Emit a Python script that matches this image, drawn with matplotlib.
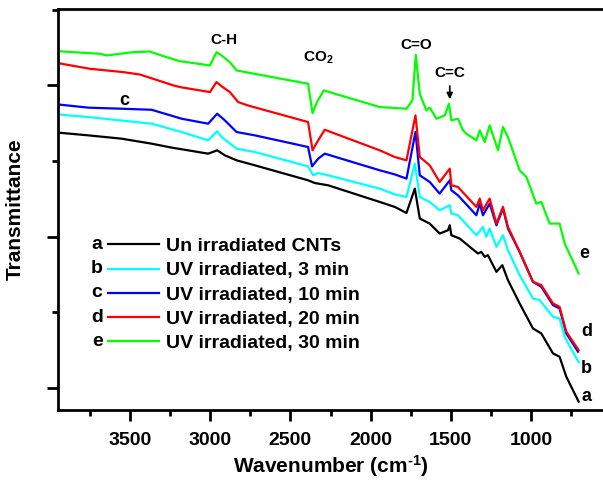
import matplotlib
matplotlib.use('Agg')
import matplotlib.pyplot as plt
from matplotlib.ticker import MultipleLocator

plt.rcParams['font.family'] = ['Liberation Sans', 'DejaVu Sans']
plt.rcParams['font.weight'] = 'bold'
plt.rcParams['axes.labelweight'] = 'bold'
plt.rcParams['mathtext.fontset'] = 'custom'
plt.rcParams['mathtext.rm'] = 'Liberation Sans:bold'
plt.rcParams['mathtext.bf'] = 'Liberation Sans:bold'
plt.rcParams['mathtext.default'] = 'bf'

# spectra (transmittance in arbitrary units)
wn_a = [3948, 3761, 3553, 3366, 3241, 3013, 2957, 2909, 2836, 2722, 2390, 2348, 2265,
        1943, 1849, 1776, 1724, 1693, 1631, 1569, 1517, 1506, 1496, 1444, 1330, 1309,
        1288, 1268, 1215, 1178, 1143, 1070, 987, 935, 862, 821, 779, 702]
t_a = [168.8, 167.0, 164.8, 161.5, 158.9, 154.9, 157.1, 153.8, 150.5, 147.2, 137.3, 135.5, 134.0,
       123.0, 119.7, 115.7, 131.8, 112.0, 108.7, 102.1, 104.3, 107.6, 101.0, 98.8, 88.9, 90.0,
       86.7, 87.8, 76.8, 81.2, 71.3, 55.9, 39.4, 36.1, 22.9, 20.7, 7.5, -9.0]

wn_b = [3948, 3761, 3366, 3179, 3013, 2957, 2930, 2836, 2722, 2390, 2358, 2327, 2265,
        1943, 1849, 1776, 1724, 1693, 1631, 1569, 1506, 1496, 1455, 1340, 1299, 1278,
        1257, 1215, 1174, 1143, 1070, 987, 945, 862, 821, 789, 702]
t_b = [180.8, 179.1, 174.7, 169.2, 163.7, 169.8, 165.9, 158.2, 156.0, 146.5, 140.6, 142.1, 140.6,
       131.8, 128.0, 126.3, 148.3, 126.3, 123.0, 117.5, 120.8, 115.3, 114.2, 101.0, 106.5, 99.9,
       105.4, 93.3, 101.0, 91.1, 74.6, 59.2, 58.1, 47.1, 46.0, 33.9, 17.0]

wn_c = [3948, 3761, 3553, 3366, 3179, 3013, 2957, 2909, 2836, 2722, 2390, 2365, 2327, 2286,
        1943, 1849, 1776, 1720, 1693, 1631, 1569, 1506, 1496, 1455, 1340, 1319, 1299,
        1257, 1215, 1174, 1143, 1070, 987, 935, 862, 821, 779, 706]
t_c = [187.4, 185.3, 184.6, 183.9, 178.0, 174.7, 181.3, 176.9, 169.2, 167.0, 159.3, 146.5, 151.6, 154.9,
       143.9, 141.2, 138.4, 169.2, 140.6, 136.2, 128.5, 137.3, 130.7, 127.4, 114.2, 121.9, 114.2,
       121.9, 107.6, 118.6, 105.4, 90.0, 70.2, 66.9, 54.8, 52.6, 36.1, 24.0]

wn_d = [3948, 3751, 3543, 3439, 3325, 3230, 3189, 3002, 2961, 2928, 2878, 2826, 2767, 2390,
        2362, 2327, 2286, 1943, 1849, 1776, 1720, 1693, 1631, 1569, 1506, 1496, 1455,
        1340, 1319, 1299, 1257, 1215, 1174, 1143, 1070, 987, 935, 862, 821, 779, 702]
t_d = [214.7, 211.0, 208.8, 207.2, 203.3, 200.0, 198.9, 195.6, 202.2, 199.3, 195.6, 189.0, 186.8, 175.8,
       157.1, 163.7, 170.7, 157.1, 152.7, 150.5, 180.2, 152.7, 147.2, 136.2, 145.0, 134.0, 132.9,
       119.7, 125.2, 117.5, 125.2, 108.7, 119.7, 106.5, 90.0, 70.2, 68.0, 55.9, 53.7, 37.2, 25.1]

wn_e = [3948, 3688, 3646, 3481, 3377, 3274, 3189, 3002, 2961, 2930, 2878, 2836, 2390,
        2362, 2334, 2292, 1943, 1776, 1739, 1718, 1693, 1652, 1631, 1589, 1537, 1511,
        1496, 1455, 1423, 1403, 1340, 1319, 1288, 1257, 1205, 1174, 1143, 1070, 1028,
        966, 935, 883, 821, 789, 702]
t_e = [222.6, 220.9, 219.8, 222.0, 222.4, 218.7, 216.0, 213.2, 222.0, 219.8, 215.4, 209.9, 201.1,
       181.7, 189.0, 196.7, 185.7, 184.6, 190.1, 220.2, 194.5, 183.5, 185.3, 178.0, 180.2, 187.9,
       176.9, 178.0, 170.3, 168.1, 163.7, 170.3, 162.6, 173.6, 157.1, 172.5, 165.9, 143.9, 139.5,
       121.9, 123.0, 108.7, 108.7, 95.5, 75.7]

letters = ['a', 'b', 'c', 'd', 'e']
labels = ['Un irradiated CNTs', 'UV irradiated, 3 min', 'UV irradiated, 10 min',
          'UV irradiated, 20 min', 'UV irradiated, 30 min']
colors = ['#000000', '#00FFFF', '#0000FF', '#FF0000', '#00FF00']

fig = plt.figure(figsize=(6.03, 4.88), dpi=100)
ax = fig.add_axes([58 / 603, 78 / 488, 545 / 603, 401 / 488])

series = [(wn_a, t_a), (wn_b, t_b), (wn_c, t_c), (wn_d, t_d), (wn_e, t_e)]
for (x, y), lab, col in zip(series, labels, colors):
    ax.plot(x, y, color=col, lw=1.6, label=lab)

ax.set_xlim(3950, 550)
ax.set_ylim(-14.5, 250.5)
ax.xaxis.set_major_locator(MultipleLocator(500))
ax.xaxis.set_minor_locator(MultipleLocator(250))
ax.yaxis.set_major_locator(MultipleLocator(100))
ax.yaxis.set_minor_locator(MultipleLocator(50))
ax.set_yticklabels([])
ax.tick_params(which='major', length=8, width=2, labelsize=14, pad=8)
ax.tick_params(which='minor', length=4.5, width=2)
for s in ['left', 'bottom', 'top']:
    ax.spines[s].set_linewidth(2)
ax.spines['right'].set_visible(False)

ax.set_xlabel(r'Wavenumber (cm$^{\text{-1}}$)', fontsize=15, labelpad=3)
ax.set_ylabel('Transmittance', fontsize=15, labelpad=8)

# peak annotations
ax.text(2915, 230.3, 'C-H', fontsize=11, ha='center', va='center')
ax.text(2329, 218.5, 'CO$_2$', fontsize=11, ha='center', va='center')
ax.text(1718, 226.4, 'C=O', fontsize=11, ha='center', va='center')
ax.text(1506, 207.9, 'C=C', fontsize=11, ha='center', va='center')
ax.annotate('', xy=(1506, 189.0), xytext=(1506, 201.5),
            arrowprops=dict(arrowstyle='-|>', color='black', lw=1.2, mutation_scale=9))

# curve letters
ax.text(3539, 190.1, 'c', fontsize=13, ha='center', va='center')
ax.text(665, 89.1, 'e', fontsize=13, ha='center', va='center')
ax.text(652, 37.2, 'd', fontsize=13, ha='center', va='center')
ax.text(652, 13.2, 'b', fontsize=13, ha='center', va='center')
ax.text(652, -5.7, 'a', fontsize=13, ha='center', va='center')

leg = ax.legend(loc='upper left', bbox_to_anchor=(0.092, 0.43), frameon=False,
                fontsize=14, handlelength=2.6, handletextpad=0.35, labelspacing=0.34,
                borderaxespad=0, borderpad=0)

fig.canvas.draw()
inv = fig.transFigure.inverted()
for line, let in zip(leg.get_lines(), letters):
    bb = line.get_window_extent()
    x0, y0 = inv.transform((bb.x0 - 11, (bb.y0 + bb.y1) / 2))
    fig.text(x0, y0, let, fontsize=14, ha='center', va='center')

fig.savefig('out.png', dpi=100)
